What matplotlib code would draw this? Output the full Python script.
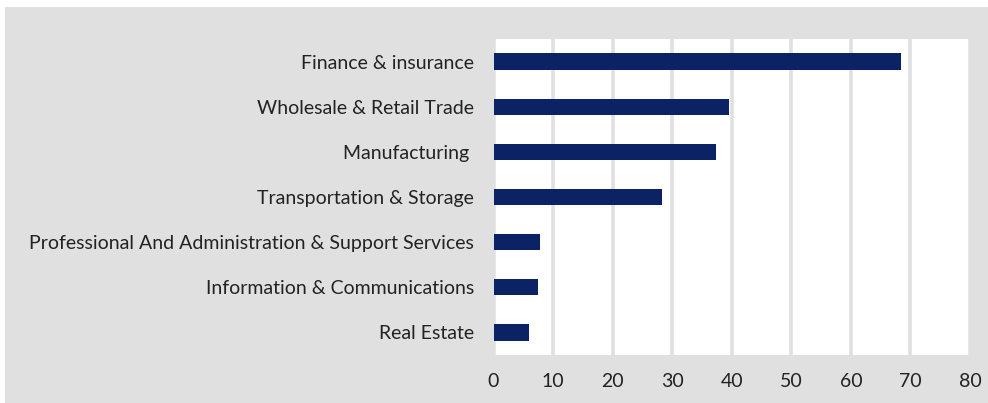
import matplotlib

matplotlib.use("Agg")
import matplotlib.pyplot as plt  # noqa: E402
from matplotlib.patches import Rectangle  # noqa: E402

sectors = [
    "Finance & insurance",
    "Wholesale & Retail Trade",
    "Manufacturing ",
    "Transportation & Storage",
    "Professional And Administration & Support Services",
    "Information & Communications",
    "Real Estate",
]
values = [68.4, 39.6, 37.3, 28.3, 7.8, 7.5, 6.0]
xticks = [0, 10, 20, 30, 40, 50, 60, 70, 80]

GREY = "#e0e0e0"
NAVY = "#0b2265"

plt.rcParams["font.family"] = ["Lato", "DejaVu Sans"]

fig = plt.figure(figsize=(9.88, 4.03), dpi=100, facecolor="white")
# grey panel behind the chart, inset slightly from the top-left edge
fig.patches.append(Rectangle((5 / 988, 0), 1, 1 - 7 / 403, transform=fig.transFigure,
                             facecolor=GREY, edgecolor="none", zorder=-1))

ax = fig.add_axes([493.5 / 988, 1 - 355 / 403, (970 - 493.5) / 988, (355 - 39) / 403])
ax.set_facecolor("white")

ypos = list(range(len(sectors)))
ax.barh(ypos, values, height=0.36, color=NAVY, zorder=3)
ax.set_yticks(ypos)
ax.set_yticklabels(sectors, fontsize=14, color="#222222")
ax.set_ylim(len(sectors) - 0.5, -0.5)

ax.set_xlim(0, 80)
ax.set_xticks(xticks)
ax.set_xticklabels([str(t) for t in xticks], fontsize=14, color="#222222")

ax.grid(axis="x", color=GREY, linewidth=2.6, zorder=1)
ax.tick_params(axis="both", length=0)
ax.tick_params(axis="y", pad=14)
ax.tick_params(axis="x", pad=13)
for s in ax.spines.values():
    s.set_visible(False)

fig.savefig("out.png", dpi=100, facecolor=fig.get_facecolor())
